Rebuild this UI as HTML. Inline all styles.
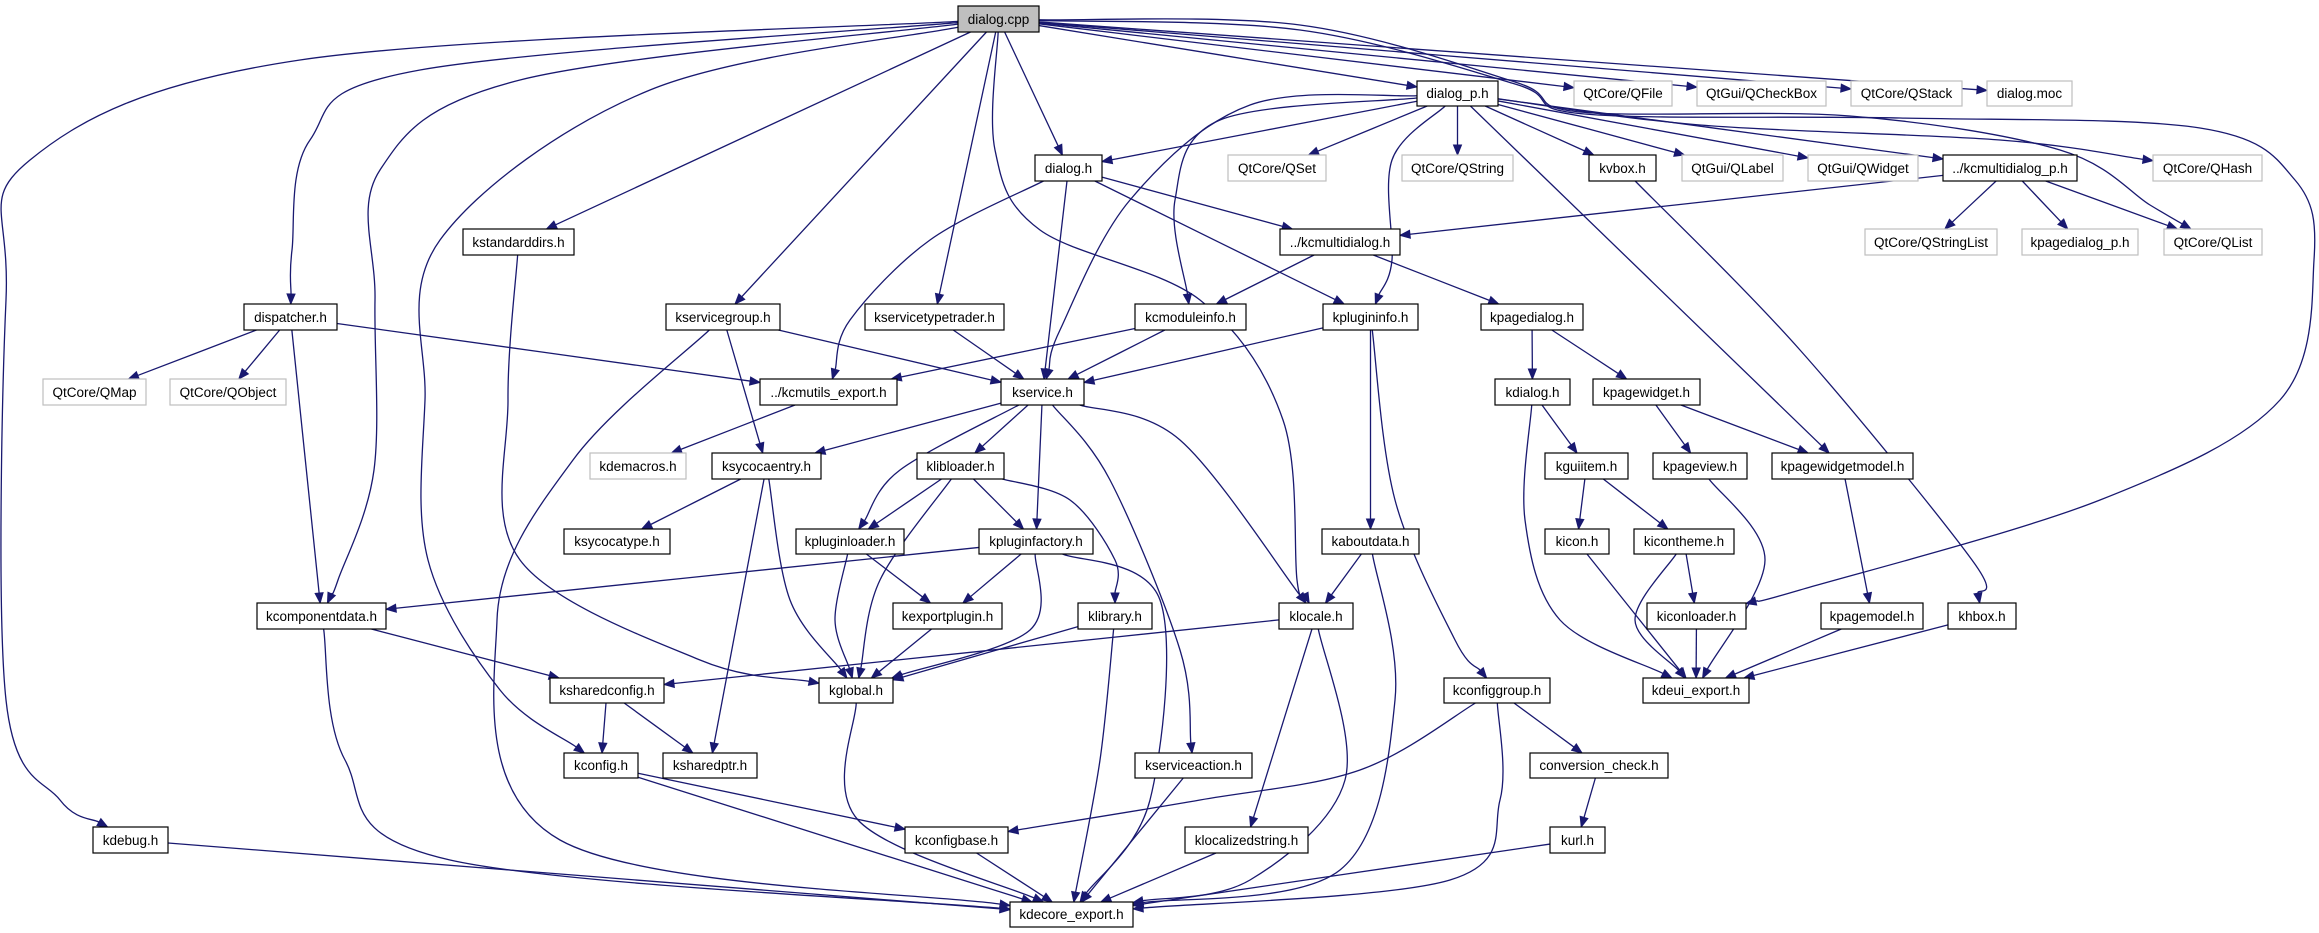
<!DOCTYPE html>
<html><head><meta charset="utf-8"><style>
html,body{margin:0;padding:0;background:#fff;}
svg{display:block;}
text{font-family:"Liberation Sans",sans-serif;font-size:13.5px;fill:#000;text-anchor:middle;}
rect.n{fill:#fff;stroke:#000;stroke-width:1.2;}
rect.g{fill:#fff;stroke:#bfbfbf;stroke-width:1.2;}
rect.r{fill:#bfbfbf;stroke:#000;stroke-width:1.2;}
</style></head><body>
<svg id="s" width="2319" height="933" viewBox="0 0 2319 933" xmlns="http://www.w3.org/2000/svg">
<g id="edges"></g>
<g id="nodes">
<g id="cpp" data-b="958,6,1039,32"><rect class="r" x="958" y="6" width="81" height="26"/><text x="998.5" y="24">dialog.cpp</text></g>
<g id="dp" data-b="1417,81,1498,106"><rect class="n" x="1417" y="81" width="81" height="25"/><text x="1457.5" y="98">dialog_p.h</text></g>
<g id="qfile" data-b="1574,81,1672,106"><rect class="g" x="1574" y="81" width="98" height="25"/><text x="1623" y="98">QtCore/QFile</text></g>
<g id="qcheck" data-b="1697,81,1826,106"><rect class="g" x="1697" y="81" width="129" height="25"/><text x="1761.5" y="98">QtGui/QCheckBox</text></g>
<g id="qstack" data-b="1851,81,1962,106"><rect class="g" x="1851" y="81" width="111" height="25"/><text x="1906.5" y="98">QtCore/QStack</text></g>
<g id="moc" data-b="1987,81,2072,106"><rect class="g" x="1987" y="81" width="85" height="25"/><text x="2029.5" y="98">dialog.moc</text></g>
<g id="dh" data-b="1035,155,1102,181"><rect class="n" x="1035" y="155" width="67" height="26"/><text x="1068.5" y="173">dialog.h</text></g>
<g id="qset" data-b="1228,155,1326,181"><rect class="g" x="1228" y="155" width="98" height="26"/><text x="1277" y="173">QtCore/QSet</text></g>
<g id="qstring" data-b="1402,155,1513,181"><rect class="g" x="1402" y="155" width="111" height="26"/><text x="1457.5" y="173">QtCore/QString</text></g>
<g id="kvbox" data-b="1589,155,1656,181"><rect class="n" x="1589" y="155" width="67" height="26"/><text x="1622.5" y="173">kvbox.h</text></g>
<g id="qlabel" data-b="1682,155,1783,181"><rect class="g" x="1682" y="155" width="101" height="26"/><text x="1732.5" y="173">QtGui/QLabel</text></g>
<g id="qwidget" data-b="1808,155,1918,181"><rect class="g" x="1808" y="155" width="110" height="26"/><text x="1863" y="173">QtGui/QWidget</text></g>
<g id="kmdp" data-b="1943,155,2077,181"><rect class="n" x="1943" y="155" width="134" height="26"/><text x="2010" y="173">../kcmultidialog_p.h</text></g>
<g id="qhash" data-b="2153,155,2262,181"><rect class="g" x="2153" y="155" width="109" height="26"/><text x="2207.5" y="173">QtCore/QHash</text></g>
<g id="kstd" data-b="463,229,574,255"><rect class="n" x="463" y="229" width="111" height="26"/><text x="518.5" y="247">kstandarddirs.h</text></g>
<g id="kmd" data-b="1280,229,1400,255"><rect class="n" x="1280" y="229" width="120" height="26"/><text x="1340" y="247">../kcmultidialog.h</text></g>
<g id="qsl" data-b="1865,229,1997,255"><rect class="g" x="1865" y="229" width="132" height="26"/><text x="1931" y="247">QtCore/QStringList</text></g>
<g id="kpdp" data-b="2022,229,2138,255"><rect class="g" x="2022" y="229" width="116" height="26"/><text x="2080" y="247">kpagedialog_p.h</text></g>
<g id="qlist" data-b="2164,229,2262,255"><rect class="g" x="2164" y="229" width="98" height="26"/><text x="2213" y="247">QtCore/QList</text></g>
<g id="disp" data-b="244,304,337,330"><rect class="n" x="244" y="304" width="93" height="26"/><text x="290.5" y="322">dispatcher.h</text></g>
<g id="ksg" data-b="666,304,780,330"><rect class="n" x="666" y="304" width="114" height="26"/><text x="723" y="322">kservicegroup.h</text></g>
<g id="kstt" data-b="865,304,1004,330"><rect class="n" x="865" y="304" width="139" height="26"/><text x="934.5" y="322">kservicetypetrader.h</text></g>
<g id="kcmi" data-b="1135,304,1246,330"><rect class="n" x="1135" y="304" width="111" height="26"/><text x="1190.5" y="322">kcmoduleinfo.h</text></g>
<g id="kpi" data-b="1323,304,1418,330"><rect class="n" x="1323" y="304" width="95" height="26"/><text x="1370.5" y="322">kplugininfo.h</text></g>
<g id="kpd" data-b="1481,304,1583,330"><rect class="n" x="1481" y="304" width="102" height="26"/><text x="1532" y="322">kpagedialog.h</text></g>
<g id="qmap" data-b="43,379,146,405"><rect class="g" x="43" y="379" width="103" height="26"/><text x="94.5" y="397">QtCore/QMap</text></g>
<g id="qobj" data-b="170,379,286,405"><rect class="g" x="170" y="379" width="116" height="26"/><text x="228" y="397">QtCore/QObject</text></g>
<g id="kce" data-b="760,379,897,405"><rect class="n" x="760" y="379" width="137" height="26"/><text x="828.5" y="397">../kcmutils_export.h</text></g>
<g id="ksvc" data-b="1001,379,1084,405"><rect class="n" x="1001" y="379" width="83" height="26"/><text x="1042.5" y="397">kservice.h</text></g>
<g id="kdlg" data-b="1495,379,1570,405"><rect class="n" x="1495" y="379" width="75" height="26"/><text x="1532.5" y="397">kdialog.h</text></g>
<g id="kpw" data-b="1593,379,1700,405"><rect class="n" x="1593" y="379" width="107" height="26"/><text x="1646.5" y="397">kpagewidget.h</text></g>
<g id="kdm" data-b="590,453,686,479"><rect class="g" x="590" y="453" width="96" height="26"/><text x="638" y="471">kdemacros.h</text></g>
<g id="kse" data-b="712,453,821,479"><rect class="n" x="712" y="453" width="109" height="26"/><text x="766.5" y="471">ksycocaentry.h</text></g>
<g id="kll" data-b="917,453,1004,479"><rect class="n" x="917" y="453" width="87" height="26"/><text x="960.5" y="471">klibloader.h</text></g>
<g id="kgi" data-b="1545,453,1628,479"><rect class="n" x="1545" y="453" width="83" height="26"/><text x="1586.5" y="471">kguiitem.h</text></g>
<g id="kpv" data-b="1653,453,1747,479"><rect class="n" x="1653" y="453" width="94" height="26"/><text x="1700" y="471">kpageview.h</text></g>
<g id="kpwm" data-b="1772,453,1913,479"><rect class="n" x="1772" y="453" width="141" height="26"/><text x="1842.5" y="471">kpagewidgetmodel.h</text></g>
<g id="kst" data-b="564,529,670,554"><rect class="n" x="564" y="529" width="106" height="25"/><text x="617" y="546">ksycocatype.h</text></g>
<g id="kpl" data-b="796,529,904,554"><rect class="n" x="796" y="529" width="108" height="25"/><text x="850" y="546">kpluginloader.h</text></g>
<g id="kpf" data-b="979,529,1093,554"><rect class="n" x="979" y="529" width="114" height="25"/><text x="1036" y="546">kpluginfactory.h</text></g>
<g id="kad" data-b="1322,529,1419,554"><rect class="n" x="1322" y="529" width="97" height="25"/><text x="1370.5" y="546">kaboutdata.h</text></g>
<g id="kicon" data-b="1545,529,1609,554"><rect class="n" x="1545" y="529" width="64" height="25"/><text x="1577" y="546">kicon.h</text></g>
<g id="kith" data-b="1634,529,1734,554"><rect class="n" x="1634" y="529" width="100" height="25"/><text x="1684" y="546">kicontheme.h</text></g>
<g id="kcd" data-b="257,603,386,629"><rect class="n" x="257" y="603" width="129" height="26"/><text x="321.5" y="621">kcomponentdata.h</text></g>
<g id="kep" data-b="893,603,1002,629"><rect class="n" x="893" y="603" width="109" height="26"/><text x="947.5" y="621">kexportplugin.h</text></g>
<g id="klib" data-b="1078,603,1152,629"><rect class="n" x="1078" y="603" width="74" height="26"/><text x="1115" y="621">klibrary.h</text></g>
<g id="kloc" data-b="1279,603,1353,629"><rect class="n" x="1279" y="603" width="74" height="26"/><text x="1316" y="621">klocale.h</text></g>
<g id="kil" data-b="1647,603,1746,629"><rect class="n" x="1647" y="603" width="99" height="26"/><text x="1696.5" y="621">kiconloader.h</text></g>
<g id="kpm" data-b="1821,603,1923,629"><rect class="n" x="1821" y="603" width="102" height="26"/><text x="1872" y="621">kpagemodel.h</text></g>
<g id="khbox" data-b="1948,603,2016,629"><rect class="n" x="1948" y="603" width="68" height="26"/><text x="1982" y="621">khbox.h</text></g>
<g id="kshc" data-b="550,678,664,703"><rect class="n" x="550" y="678" width="114" height="25"/><text x="607" y="695">ksharedconfig.h</text></g>
<g id="kglob" data-b="819,678,893,703"><rect class="n" x="819" y="678" width="74" height="25"/><text x="856" y="695">kglobal.h</text></g>
<g id="kcg" data-b="1444,678,1550,703"><rect class="n" x="1444" y="678" width="106" height="25"/><text x="1497" y="695">kconfiggroup.h</text></g>
<g id="kdeui" data-b="1643,678,1749,703"><rect class="n" x="1643" y="678" width="106" height="25"/><text x="1696" y="695">kdeui_export.h</text></g>
<g id="kcfg" data-b="564,753,638,778"><rect class="n" x="564" y="753" width="74" height="25"/><text x="601" y="770">kconfig.h</text></g>
<g id="ksp" data-b="663,753,757,778"><rect class="n" x="663" y="753" width="94" height="25"/><text x="710" y="770">ksharedptr.h</text></g>
<g id="ksa" data-b="1135,753,1252,778"><rect class="n" x="1135" y="753" width="117" height="25"/><text x="1193.5" y="770">kserviceaction.h</text></g>
<g id="conv" data-b="1530,753,1668,778"><rect class="n" x="1530" y="753" width="138" height="25"/><text x="1599" y="770">conversion_check.h</text></g>
<g id="kdebug" data-b="93,827,168,853"><rect class="n" x="93" y="827" width="75" height="26"/><text x="130.5" y="845">kdebug.h</text></g>
<g id="kcb" data-b="905,827,1008,853"><rect class="n" x="905" y="827" width="103" height="26"/><text x="956.5" y="845">kconfigbase.h</text></g>
<g id="klstr" data-b="1185,827,1308,853"><rect class="n" x="1185" y="827" width="123" height="26"/><text x="1246.5" y="845">klocalizedstring.h</text></g>
<g id="kurl" data-b="1550,827,1605,853"><rect class="n" x="1550" y="827" width="55" height="26"/><text x="1577.5" y="845">kurl.h</text></g>
<g id="kdce" data-b="1010,902,1133,927"><rect class="n" x="1010" y="902" width="123" height="25"/><text x="1071.5" y="919">kdecore_export.h</text></g>
</g>
</svg>
<script>
(function(){
var E=[
["cpp","kdebug",[[300,60],[30,160],[6,300],[6,700],[60,800]]],
["cpp","disp",[[420,70],[310,140],[292,250]]],
["cpp","kcd",[[520,80],[380,170],[375,300],[374,470],[338,580]]],
["cpp","kcfg",[[650,90],[440,240],[425,400],[428,560],[500,690]]],
["cpp","kstd"],["cpp","ksg"],["cpp","kstt"],["cpp","dh"],
["cpp","kloc",[[995,150],[1040,230],[1200,300],[1283,420],[1297,580]]],
["cpp","dp"],["cpp","qfile"],["cpp","qcheck"],["cpp","qstack"],["cpp","moc"],
["cpp","qlist",[[1300,25],[1515,82],[1580,112],[1850,116],[2060,150],[2150,205]]],
["cpp","kil",[[1300,30],[1515,84],[1585,114],[1900,118],[2200,128],[2295,180],[2314,260],[2280,400],[2100,500],[1800,590]]],
["dp","dh"],["dp","ksvc",[[1250,105],[1130,200],[1060,330]]],
["dp","kcmi",[[1220,120],[1175,200]]],["dp","kpi",[[1392,160],[1392,260]]],
["dp","qset"],["dp","qstring"],["dp","kvbox"],["dp","qlabel"],["dp","qwidget"],["dp","kmdp"],["dp","qhash",[[1700,125],[2000,140]]],["dp","kpwm"],
["dh","kmd"],["dh","ksvc"],["dh","kpi"],["dh","kce",[[930,240],[850,320]]],
["kstd","kglob",[[508,400],[520,560],[700,660]]],
["kmdp","kmd"],["kmdp","qsl"],["kmdp","kpdp"],["kmdp","qlist"],
["kmd","kcmi"],["kmd","kpd"],
["kvbox","khbox",[[1800,350],[1972,560]]],
["disp","qmap"],["disp","qobj"],["disp","kce"],["disp","kcd"],
["ksg","ksvc"],["ksg","kse"],["ksg","kdce",[[573,460],[497,620],[560,840]]],
["kstt","ksvc"],["kcmi","kce"],["kcmi","ksvc"],
["kpi","ksvc"],["kpi","kad"],["kpi","kcg",[[1395,500],[1455,640]]],
["kpd","kdlg"],["kpd","kpw"],["kce","kdm"],
["ksvc","kse"],["ksvc","kll"],["ksvc","kpl",[[900,470]]],["ksvc","kpf"],["ksvc","kloc",[[1180,440]]],["ksvc","ksa",[[1110,480],[1180,650]]],
["kdlg","kgi"],["kdlg","kdeui",[[1525,520],[1560,620]]],
["kpw","kpv"],["kpw","kpwm"],
["kse","kst"],["kse","kglob",[[790,600]]],["kse","ksp"],
["kll","kpl"],["kll","kpf"],["kll","kglob",[[880,580]]],["kll","klib",[[1070,500],[1115,560]]],
["kgi","kicon"],["kgi","kith"],["kpv","kdeui",[[1765,560]]],["kpwm","kpm"],
["kpl","kep"],["kpl","kglob",[[835,620]]],
["kpf","kcd"],["kpf","kep"],["kpf","kglob",[[1030,630]]],["kpf","kdce",[[1160,600],[1150,800]]],
["kad","kloc"],["kad","kdce",[[1395,700],[1340,870]]],
["kith","kil"],["kith","kdeui",[[1635,620]]],["kicon","kdeui"],
["kcd","kshc"],["kcd","kdce",[[345,760],[450,860]]],
["kep","kglob"],["klib","kglob"],["klib","kdce",[[1100,760]]],
["kloc","kshc"],["kloc","klstr"],["kloc","kdce",[[1345,780],[1250,880]]],
["kil","kdeui"],["kpm","kdeui"],["khbox","kdeui"],
["kshc","kcfg"],["kshc","ksp"],["kglob","kdce",[[858,820]]],
["kcg","kcb",[[1360,770],[1200,800]]],["kcg","conv"],["kcg","kdce",[[1500,800],[1450,880]]],
["kcfg","kcb"],["kcfg","kdce"],["ksa","kdce"],["conv","kurl"],
["kdebug","kdce"],["kcb","kdce"],["klstr","kdce"],["kurl","kdce"]
];
var C="#191970",ns="http://www.w3.org/2000/svg",G=document.getElementById("edges");
function box(id){return document.getElementById(id).getAttribute("data-b").split(",").map(Number);}
function clip(b,p){var cx=(b[0]+b[2])/2,cy=(b[1]+b[3])/2,dx=p[0]-cx,dy=p[1]-cy,hw=(b[2]-b[0])/2,hh=(b[3]-b[1])/2;
 var t=Math.min(dx?hw/Math.abs(dx):1e9,dy?hh/Math.abs(dy):1e9);return [cx+dx*t,cy+dy*t];}
E.forEach(function(e){
 var a=box(e[0]),b=box(e[1]),w=e[2]||[];
 var ac=[(a[0]+a[2])/2,(a[1]+a[3])/2],bc=[(b[0]+b[2])/2,(b[1]+b[3])/2];
 var s=clip(a,w.length?w[0]:bc),t=clip(b,w.length?w[w.length-1]:ac);
 var last=w.length?w[w.length-1]:s;
 var dx=t[0]-last[0],dy=t[1]-last[1],L=Math.hypot(dx,dy)||1,ux=dx/L,uy=dy/L;
 var al=10,aw=4,te=[t[0]-ux*al,t[1]-uy*al];
 var P=[s].concat(w,[te]),d="M"+P[0][0]+","+P[0][1];
 for(var i=0;i<P.length-1;i++){var p0=P[i-1]||P[i],p1=P[i],p2=P[i+1],p3=P[i+2]||p2;
  d+=" C"+(p1[0]+(p2[0]-p0[0])/6)+","+(p1[1]+(p2[1]-p0[1])/6)+" "+(p2[0]-(p3[0]-p1[0])/6)+","+(p2[1]-(p3[1]-p1[1])/6)+" "+p2[0]+","+p2[1];}
 var pa=document.createElementNS(ns,"path");pa.setAttribute("d",d);pa.setAttribute("fill","none");pa.setAttribute("stroke",C);pa.setAttribute("stroke-width","1.3");G.appendChild(pa);
 var pg=document.createElementNS(ns,"polygon");
 pg.setAttribute("points",t[0]+","+t[1]+" "+(te[0]-uy*aw)+","+(te[1]+ux*aw)+" "+(te[0]+uy*aw)+","+(te[1]-ux*aw));
 pg.setAttribute("fill",C);pg.setAttribute("stroke",C);G.appendChild(pg);
});
})();
</script>
</body></html>
